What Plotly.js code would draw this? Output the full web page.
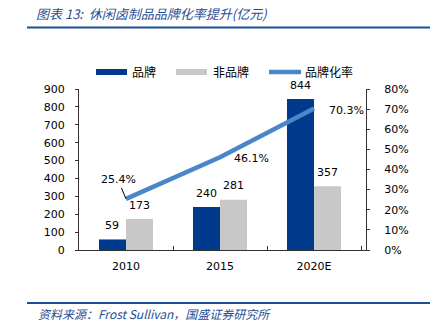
<!DOCTYPE html>
<html>
<head>
<meta charset="utf-8">
<script src="https://cdn.plot.ly/plotly-3.0.1.min.js"></script>
<style>html,body{margin:0;padding:0;background:#fff;}#chart{width:433px;height:323px;}</style>
</head>
<body>
<div id="chart"></div>
<script>
var categories = ['2010', '2015', '2020E'];
var brandValues = [59, 240, 844];
var nonBrandValues = [173, 281, 357];
var brandRate = [25.4, 46.1, 70.3];
var seriesNames = ['品牌', '非品牌', '品牌化率'];
var titleText = '图表 13:  休闲卤制品品牌化率提升(亿元)';
var sourceText = '资料来源：Frost Sullivan，国盛证券研究所';

var W = 433, H = 323, L = 79, R = 67, T = 89, B = 73;
var PW = W - L - R, PH = H - T - B;
function px(x) { return (x - L) / PW; }
function py(y) { return (H - B - y) / PH; }

var cBrand = '#003A8C', cNon = '#C8C8C8', cLine = '#4A86C8', cBlue = '#1F4E96';
var numFont = {family: 'DejaVu Sans, Verdana, sans-serif', size: 11, color: '#000'};
var cjkFont = {family: 'Noto Sans CJK SC, sans-serif', size: 12, color: '#000'};

var traces = [
  {type: 'bar', x: categories, y: brandValues, name: seriesNames[0], marker: {color: cBrand}, hoverinfo: 'none'},
  {type: 'bar', x: categories, y: nonBrandValues, name: seriesNames[1], marker: {color: cNon}, hoverinfo: 'none'},
  {type: 'scatter', mode: 'lines', x: categories, y: brandRate.map(function(v){return v/100;}), yaxis: 'y2',
   name: seriesNames[2], line: {color: cLine, width: 4.5}, hoverinfo: 'none'}
];

var annotations = [];
var half = PW / categories.length * (1 - 0.425) / 4;
brandValues.forEach(function(v, i) {
  annotations.push({x: i, y: v, xref: 'x', yref: 'y', text: String(v), showarrow: false,
    xshift: -half, yshift: 14, yanchor: 'middle', font: numFont});
});
nonBrandValues.forEach(function(v, i) {
  annotations.push({x: i, y: v, xref: 'x', yref: 'y', text: String(v), showarrow: false,
    xshift: half, yshift: 14, yanchor: 'middle', font: numFont});
});
annotations.push({x: 0, y: brandRate[0]/100, xref: 'x', yref: 'y2', text: brandRate[0].toFixed(1) + '%',
  showarrow: true, arrowhead: 0, arrowwidth: 1, arrowcolor: '#000', ax: -8, ay: -19, font: numFont});
annotations.push({x: 1, y: brandRate[1]/100, xref: 'x', yref: 'y2', text: brandRate[1].toFixed(1) + '%',
  showarrow: false, xanchor: 'left', xshift: 12, yanchor: 'middle', yshift: -1, font: numFont});
annotations.push({x: 2, y: brandRate[2]/100, xref: 'x', yref: 'y2', text: brandRate[2].toFixed(1) + '%',
  showarrow: false, xanchor: 'left', xshift: 13, yanchor: 'middle', yshift: -2, font: numFont});

// custom legend
var legendItems = [
  {x0: 96, x1: 127, tx: 130, color: cBrand, kind: 'rect'},
  {x0: 176, x1: 207, tx: 211, color: cNon, kind: 'rect'},
  {x0: 269, x1: 301, tx: 303, color: cLine, kind: 'line'}
];
var shapes = [];
legendItems.forEach(function(it, i) {
  if (it.kind === 'rect') {
    shapes.push({type: 'rect', xref: 'paper', yref: 'paper', x0: px(it.x0), x1: px(it.x1),
      y0: py(75), y1: py(69), fillcolor: it.color, line: {width: 0}});
  } else {
    shapes.push({type: 'line', xref: 'paper', yref: 'paper', x0: px(it.x0), x1: px(it.x1),
      y0: py(72), y1: py(72), line: {color: it.color, width: 4.5}});
  }
  annotations.push({xref: 'paper', yref: 'paper', x: px(it.tx), y: py(72), xanchor: 'left', yanchor: 'middle',
    text: seriesNames[i], showarrow: false, font: cjkFont});
});
// title rule and bottom rule
shapes.push({type: 'line', xref: 'paper', yref: 'paper', x0: px(27), x1: px(430), y0: py(27.5), y1: py(27.5),
  line: {color: cBlue, width: 2}});
shapes.push({type: 'line', xref: 'paper', yref: 'paper', x0: px(27), x1: px(430), y0: py(303), y1: py(303),
  line: {color: cBlue, width: 2}});
annotations.push({xref: 'paper', yref: 'paper', x: px(36), y: py(313), xanchor: 'left', yanchor: 'middle',
  text: '<i>' + sourceText + '</i>', showarrow: false,
  font: {family: 'Noto Sans CJK SC, sans-serif', size: 12, color: cBlue}});

var layout = {
  width: W, height: H,
  margin: {l: L, r: R, t: T, b: B, pad: 0},
  paper_bgcolor: '#fff', plot_bgcolor: '#fff',
  showlegend: false,
  barmode: 'group', bargap: 0.425, bargroupgap: 0,
  title: {text: '<i>' + titleText + '</i>', xref: 'container', yref: 'container', x: 36/W, xanchor: 'left',
    y: 1 - 14/H, yanchor: 'middle', font: {family: 'Noto Sans CJK SC, sans-serif', size: 13, color: cBlue}},
  xaxis: {type: 'category', showline: true, linecolor: '#333', linewidth: 1, ticks: 'inside', tickson: 'boundaries',
    ticklen: 4, tickcolor: '#333', showgrid: false, zeroline: false, tickfont: numFont, ticklabelstandoff: 6, fixedrange: true},
  yaxis: {range: [0, 900], dtick: 100, showline: true, linecolor: '#333', linewidth: 1, ticks: 'outside', ticklen: 3,
    tickcolor: '#333', showgrid: false, zeroline: false, tickfont: numFont, ticklabelstandoff: 8, fixedrange: true},
  yaxis2: {range: [0, 0.8], dtick: 0.1, tickformat: '.0%', overlaying: 'y', side: 'right', showline: true,
    linecolor: '#333', linewidth: 1, ticks: 'outside', ticklen: 3, tickcolor: '#333', showgrid: false, zeroline: false,
    tickfont: numFont, ticklabelstandoff: 12, fixedrange: true},
  annotations: annotations,
  shapes: shapes
};

Plotly.newPlot('chart', traces, layout, {displayModeBar: false, staticPlot: true});
</script>
</body>
</html>
